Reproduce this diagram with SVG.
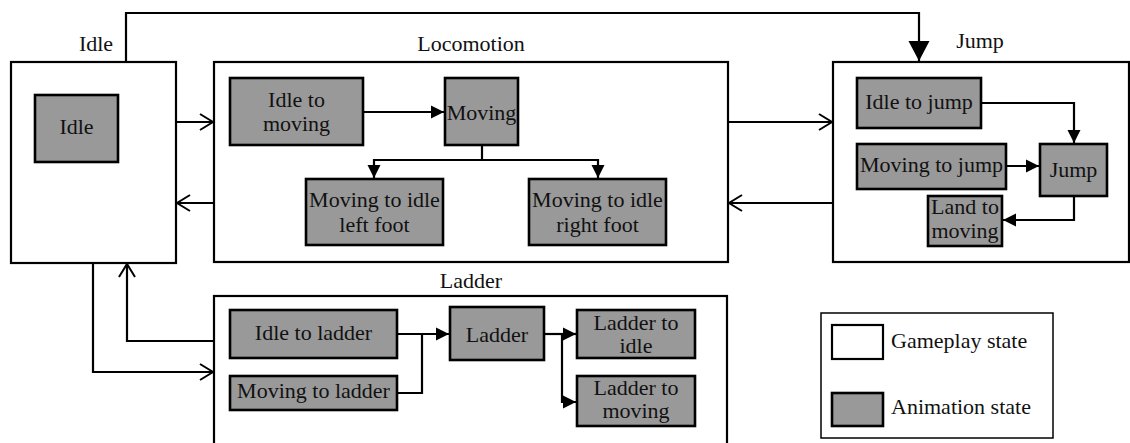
<svg xmlns="http://www.w3.org/2000/svg" width="1130" height="443" viewBox="0 0 1130 443" font-family="'Liberation Serif', 'Times New Roman', Tinos, 'DejaVu Serif', serif">
<defs>
<style>
.g{fill:#ffffff;stroke:#000;stroke-width:2.2}
.a{fill:#999999;stroke:#000;stroke-width:2.6}
.c{fill:none;stroke:#000;stroke-width:2.2}
text{font-size:22px;fill:#111;text-anchor:middle}
.l{text-anchor:start}
</style>
<marker id="fa" markerUnits="userSpaceOnUse" markerWidth="14" markerHeight="14" viewBox="0 0 14 14" refX="13" refY="7" orient="auto"><path d="M0,0.5 L13,7 L0,13.5 Z" fill="#000"/></marker>
<marker id="big" markerUnits="userSpaceOnUse" markerWidth="22" markerHeight="22" viewBox="0 0 22 22" refX="20" refY="11" orient="auto"><path d="M0,0.5 L20,11 L0,21.5 Z" fill="#000"/></marker>
<marker id="op" markerUnits="userSpaceOnUse" markerWidth="16" markerHeight="20" viewBox="0 0 16 20" refX="14" refY="10" orient="auto"><path d="M1,2 L14,10 L1,18" fill="none" stroke="#000" stroke-width="2"/></marker>
</defs>
<rect width="1130" height="443" fill="#fff"/>

<g id="idle-state">
<rect class="g" x="11" y="62" width="165" height="201"/>
<text x="96" y="51">Idle</text>
</g>
<g id="locomotion-state">
<rect class="g" x="214" y="62" width="514" height="200"/>
<text x="471" y="51">Locomotion</text>
</g>
<g id="jump-state">
<rect class="g" x="833" y="62" width="296" height="200"/>
<text x="980" y="48">Jump</text>
</g>
<g id="ladder-state">
<rect class="g" x="214" y="296" width="513" height="160"/>
<text x="471" y="288">Ladder</text>
</g>

<g id="connectors">
<path class="c" d="M126,62 V13 H919 V61" marker-end="url(#big)"/>
<path class="c" d="M176,122 H213" marker-end="url(#op)"/>
<path class="c" d="M214,203 H177" marker-end="url(#op)"/>
<path class="c" d="M728,122 H832" marker-end="url(#op)"/>
<path class="c" d="M833,203 H729" marker-end="url(#op)"/>
<path class="c" d="M93,263 V372 H213" marker-end="url(#op)"/>
<path class="c" d="M214,341 H127 V264" marker-end="url(#op)"/>
<path class="c" d="M363,112 H444" marker-end="url(#fa)"/>
<path class="c" d="M482,145 V160 H374 V178" marker-end="url(#fa)"/>
<path class="c" d="M482,160 H598 V178" marker-end="url(#fa)"/>
<path class="c" d="M981,103 H1074 V143" marker-end="url(#fa)"/>
<path class="c" d="M1006,166 H1039" marker-end="url(#fa)"/>
<path class="c" d="M1074,196 V220 H1003" marker-end="url(#fa)"/>
<path class="c" d="M397,334 H449" marker-end="url(#fa)"/>
<path class="c" d="M397,393 H422 V334"/>
<path class="c" d="M544,334 H576" marker-end="url(#fa)"/>
<path class="c" d="M562,334 V402 H576" marker-end="url(#fa)"/>
</g>

<g id="idle-anim">
<rect class="a" x="35" y="95" width="83" height="67"/>
<text x="76.5" y="134">Idle</text>
</g>
<g id="idle-to-moving">
<rect class="a" x="230" y="78" width="133" height="67"/>
<text x="296.5" y="107">Idle to</text>
<text x="296.5" y="131">moving</text>
</g>
<g id="moving">
<rect class="a" x="445" y="78" width="73" height="67"/>
<text x="481.5" y="120">Moving</text>
</g>
<g id="moving-to-idle-left">
<rect class="a" x="306" y="179" width="137" height="66"/>
<text x="374.5" y="207">Moving to idle</text>
<text x="374.5" y="232">left foot</text>
</g>
<g id="moving-to-idle-right">
<rect class="a" x="529" y="179" width="137" height="66"/>
<text x="597.5" y="207">Moving to idle</text>
<text x="597.5" y="232">right foot</text>
</g>
<g id="idle-to-jump">
<rect class="a" x="857" y="78" width="124" height="50"/>
<text x="919" y="109">Idle to jump</text>
</g>
<g id="moving-to-jump">
<rect class="a" x="857" y="144" width="149" height="45"/>
<text x="931.5" y="172">Moving to jump</text>
</g>
<g id="jump">
<rect class="a" x="1040" y="144" width="67" height="52"/>
<text x="1073.5" y="177">Jump</text>
</g>
<g id="land-to-moving">
<rect class="a" x="928" y="196" width="74" height="50"/>
<text x="965" y="214">Land to</text>
<text x="965" y="238">moving</text>
</g>
<g id="idle-to-ladder">
<rect class="a" x="230" y="310" width="167" height="48"/>
<text x="313.5" y="340">Idle to ladder</text>
</g>
<g id="moving-to-ladder">
<rect class="a" x="230" y="376" width="167" height="34"/>
<text x="313.5" y="398">Moving to ladder</text>
</g>
<g id="ladder">
<rect class="a" x="450" y="307" width="94" height="53"/>
<text x="497" y="342">Ladder</text>
</g>
<g id="ladder-to-idle">
<rect class="a" x="577" y="310" width="118" height="48"/>
<text x="636" y="330">Ladder to</text>
<text x="636" y="353">idle</text>
</g>
<g id="ladder-to-moving">
<rect class="a" x="577" y="376" width="118" height="50"/>
<text x="636" y="395">Ladder to</text>
<text x="636" y="418">moving</text>
</g>

<g id="legend">
<rect x="821" y="313" width="232" height="125" fill="#fff" stroke="#000" stroke-width="1.5"/>
<rect class="g" x="832" y="325" width="51" height="34" stroke-width="2.6"/>
<text class="l" x="891" y="348">Gameplay state</text>
<rect class="a" x="832" y="393" width="51" height="33"/>
<text class="l" x="891" y="414">Animation state</text>
</g>
</svg>
